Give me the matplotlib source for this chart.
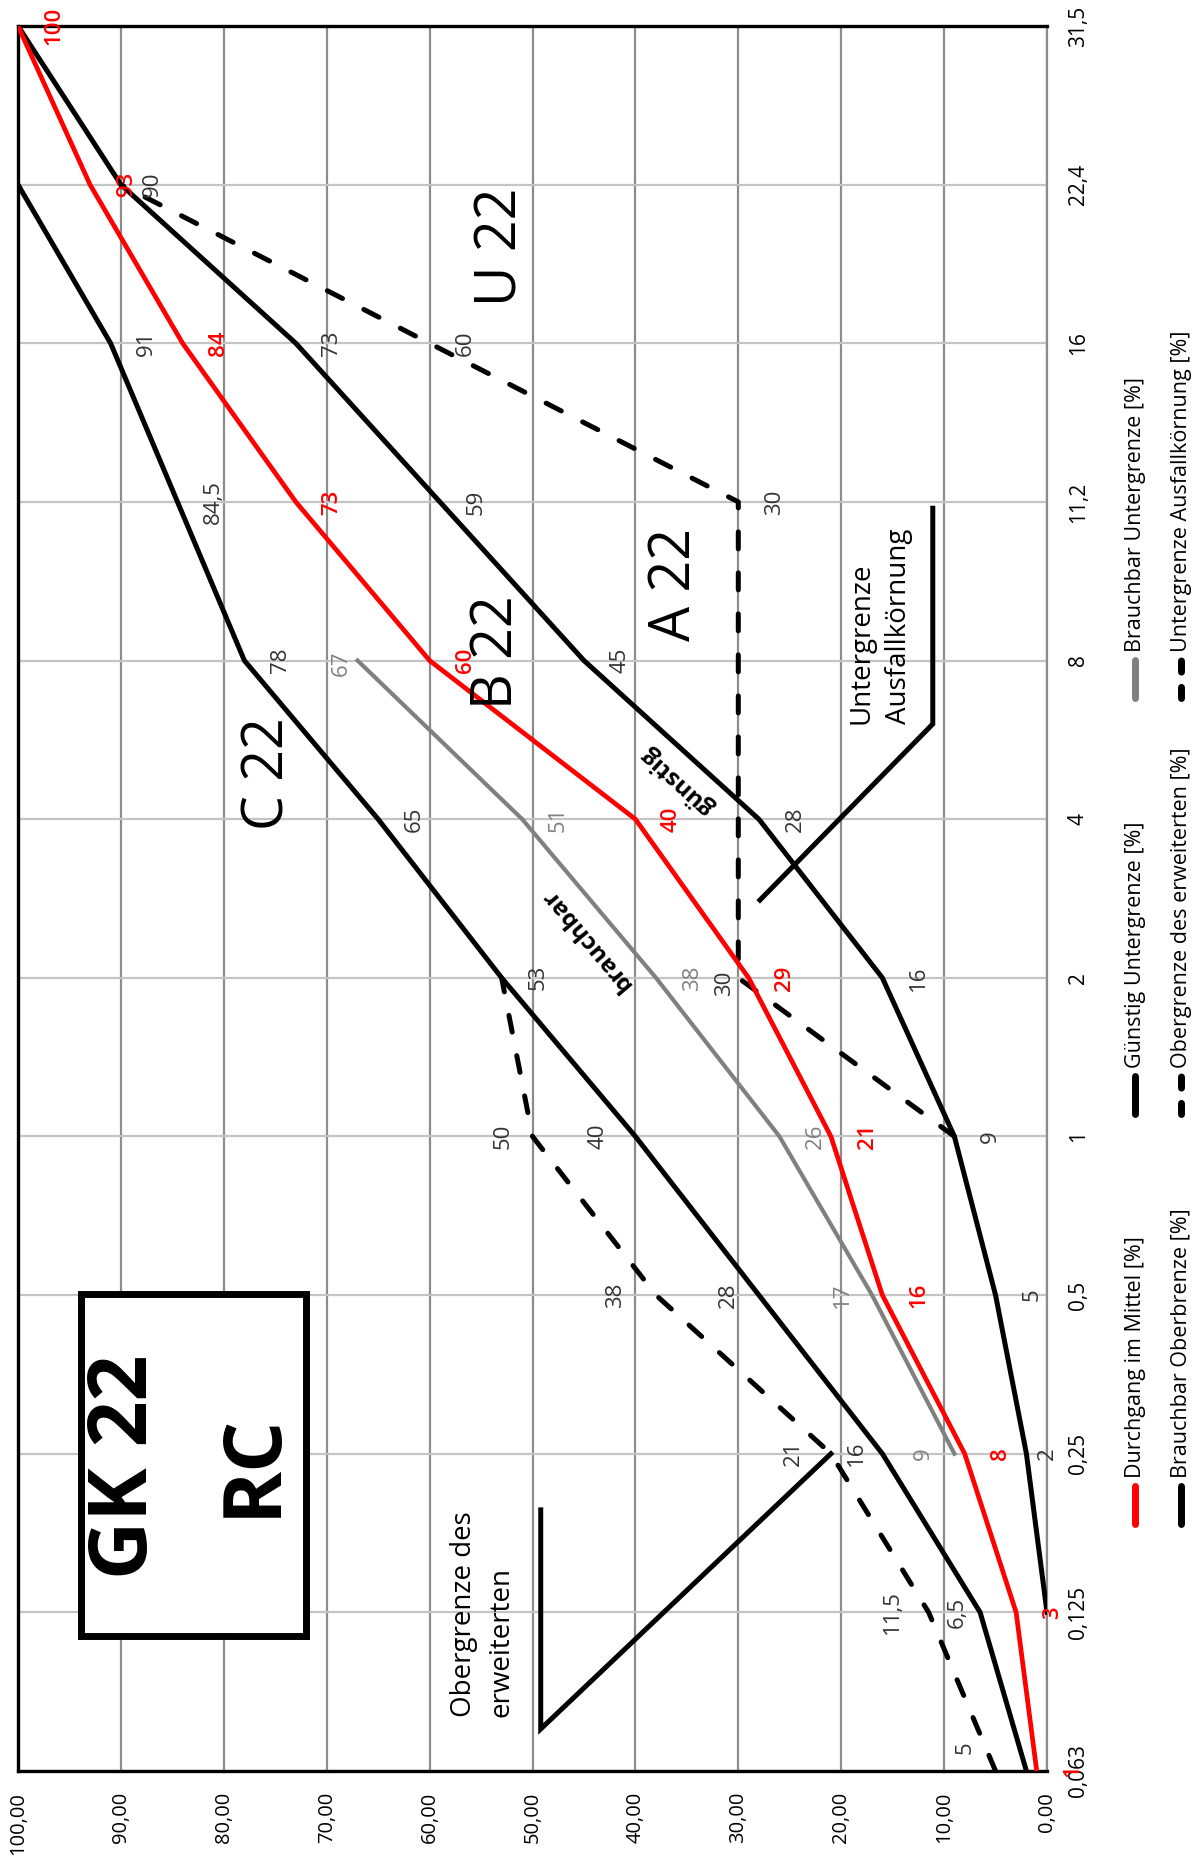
import numpy as np
import matplotlib
matplotlib.use("Agg")
import matplotlib.pyplot as plt
from matplotlib.lines import Line2D
from matplotlib.patches import Rectangle

plt.rcParams["font.family"] = ["Open Sans", "DejaVu Sans"]

# ---------------------------------------------------------------- data
sieves = ["0,063", "0,125", "0,25", "0,5", "1", "2", "4", "8", "11,2", "16", "22,4", "31,5"]
pct_ticks = [0, 10, 20, 30, 40, 50, 60, 70, 80, 90, 100]

N = None
mittel = [1, 3, 8, 16, 21, 29, 40, 60, 73, 84, 93, 100]
guenstig_unten = [N, 0, 2, 5, 9, 16, 28, 45, 59, 73, 90, 100]
brauchbar_unten = [N, N, 9, 17, 26, 38, 51, 67, N, N, N, N]
brauchbar_oben = [2, 6.5, 16, 28, 40, 53, 65, 78, 84.5, 91, 100, N]
erweitert_oben = [5, 11.5, 21, 38, 50, 53, N, N, N, N, N, N]
ausfall_unten = [N, N, N, N, 9, 30, 30, 30, 30, 60, 90, N]

legend_labels = [
    "Durchgang im Mittel [%]", "Brauchbar Oberbrenze [%]",
    "Günstig Untergrenze [%]", "Obergrenze des erweiterten [%]",
    "Brauchbar Untergrenze [%]", "Untergrenze Ausfallkörnung [%]",
]

# ---------------------------------------------------------------- layout helpers
W, H = 1200, 1870
RED, GREY, BLACK, LABEL = "#ff0000", "#808080", "#000000", "#333333"
DASH = (3.4, 4.8)

R = (26, 0)      # value label to the right of the point (offset points)
L = (-22.5, 0)   # value label to the left of the point


def arr(values):
    return np.array([np.nan if v is None else v for v in values], dtype=float)


def fmt(v):
    return f"{v:g}".replace(".", ",")


def fpos(px, py):
    return px / W, 1 - py / H


fig = plt.figure(figsize=(W / 100, H / 100), dpi=100)
ax = fig.add_axes([18 / W, 1 - 1771 / H, (1047 - 18) / W, (1771 - 26) / H])

idx = np.arange(len(sieves))

ax.set_xlim(100, 0)
ax.set_ylim(0, len(sieves) - 1)

# grid
ax.set_axisbelow(True)
ax.set_xticks(pct_ticks)
ax.set_xticklabels([f"{v:.2f}".replace(".", ",") for v in pct_ticks],
                   rotation=90, fontsize=14.5)
ax.set_yticks(idx)
ax.set_yticklabels(sieves, rotation=90, va="center", fontsize=15)
ax.yaxis.tick_right()
ax.tick_params(axis="x", length=0, pad=15)
ax.tick_params(axis="y", length=0, pad=15)
ax.grid(axis="x", color="#8c8c8c", lw=1.6)
ax.grid(axis="y", color="#c4c4c4", lw=1.6)
for side in ("left", "top", "bottom"):
    ax.spines[side].set_linewidth(2.4)
    ax.spines[side].set_color(BLACK)
ax.spines["right"].set_linewidth(1.6)
ax.spines["right"].set_color("#8c8c8c")

# ---------------------------------------------------------------- curves
series = [
    dict(y=erweitert_oben, color=BLACK, lw=3.6, dashed=True, lc=LABEL, fw="normal",
         pos=[(-22, 16.5), (-26, 0), (-27, 0), (-29, 0), (-21, 0), None] + [None] * 6),
    dict(y=ausfall_unten, color=BLACK, lw=3.6, dashed=True, lc=LABEL, fw="normal",
         pos=[None] * 5 + [(-10, -3.6), None, None, R, R, None, None]),
    dict(y=brauchbar_unten, color=GREY, lw=3.0, dashed=False, lc=GREY, fw="normal",
         pos=[None, None, (-22, 0), (-21, 0), R, R, R, (-11.5, -2)] + [None] * 4),
    dict(y=brauchbar_oben, color=BLACK, lw=3.6, dashed=False, lc=LABEL, fw="normal",
         pos=[None, (-16.5, 0), (-19, 0), (-22, 0), (-27, 0), R, R, R, R, R, None, None]),
    dict(y=guenstig_unten, color=BLACK, lw=3.6, dashed=False, lc=LABEL, fw="normal",
         pos=[None, None, (15, 0), R, R, R, R, R, R, R, (23, 0), None]),
    dict(y=mittel, color=RED, lw=3.4, dashed=False, lc=RED, fw="semibold",
         pos=[R] * 12),
]

for s in series:
    y = arr(s["y"])
    kw = dict(color=s["color"], lw=s["lw"], solid_joinstyle="miter", zorder=4)
    if s["dashed"]:
        kw.update(linestyle=(0, DASH), dash_capstyle="round")
    ax.plot(y, idx, **kw)
    for i, (v, p) in enumerate(zip(s["y"], s["pos"])):
        if v is None or p is None:
            continue
        ax.annotate(fmt(v), (v, i), xytext=p, textcoords="offset points",
                    rotation=90, ha="center", va="center", fontsize=16,
                    color=s["lc"], fontweight=s["fw"], annotation_clip=False,
                    zorder=6)

# ---------------------------------------------------------------- annotations
for txt, (p, i) in [("C 22", (75.6, 6.29)), ("B 22", (53.4, 7.05)),
                    ("A 22", (36.1, 7.48)), ("U 22", (53.0, 9.61))]:
    ax.text(p, i, txt, rotation=90, ha="center", va="center", fontsize=40,
            zorder=5)

ax.text(44.7, 5.24, "brauchbar", rotation=130.1, rotation_mode="anchor",
        ha="center", va="center", fontsize=17.5, fontweight="bold", zorder=5)
ax.text(35.9, 6.24, "günstig", rotation=137.7, rotation_mode="anchor",
        ha="center", va="center", fontsize=17.5, fontweight="bold", zorder=5)

# title box
ax.add_patch(Rectangle((72.0, 0.85), 21.9, 2.16, facecolor="white",
                       edgecolor=BLACK, lw=5, zorder=3))
ax.text(89.5, 1.92, "GK 22", rotation=90, ha="center", va="center",
        fontsize=58, fontweight="bold", zorder=5)
ax.text(77.1, 1.93, "RC", rotation=90, ha="center", va="center",
        fontsize=58, fontweight="bold", zorder=5)

# callouts
ax.plot([21.0, 49.2, 49.2], [2.0, 0.265, 1.646], color=BLACK, lw=3.6,
        solid_joinstyle="miter", zorder=4)
ax.text(54.8, 0.34, "Obergrenze des\nerweiterten", rotation=90,
        rotation_mode="anchor", ha="left", va="center", fontsize=20,
        linespacing=1.45, zorder=5)
ax.plot([27.9, 11.1, 11.1], [5.49, 6.6, 7.96], color=BLACK, lw=3.6,
        solid_joinstyle="miter", zorder=4)
ax.text(16.2, 6.6, "Untergrenze\nAusfallkörnung", rotation=90,
        rotation_mode="anchor", ha="left", va="center", fontsize=20,
        linespacing=1.45, zorder=5)

# ---------------------------------------------------------------- legend
leg_styles = [(RED, False), (BLACK, False), (BLACK, False), (BLACK, True),
              (GREY, False), (BLACK, True)]
col_x = [1135, 1181]
row_start = [1478, 1068, 652]
for k, (lab, (col, dashed)) in enumerate(zip(legend_labels, leg_styles)):
    cx = col_x[k % 2]
    ys = row_start[k // 2]
    x0, y0 = fpos(cx, ys + 46)
    x1, y1 = fpos(cx, ys + 8)
    kw = dict(color=col, lw=5, solid_capstyle="round")
    if dashed:
        kw.update(linestyle=(0, (1.6, 2.2)), dash_capstyle="round")
    fig.add_artist(Line2D([x0, x1], [y0, y1], transform=fig.transFigure, **kw))
    tx, ty = fpos(cx, ys)
    fig.text(tx, ty, lab, rotation=90, rotation_mode="anchor", ha="left",
             va="center", fontsize=15.5)

fig.savefig("out.png", dpi=100)
